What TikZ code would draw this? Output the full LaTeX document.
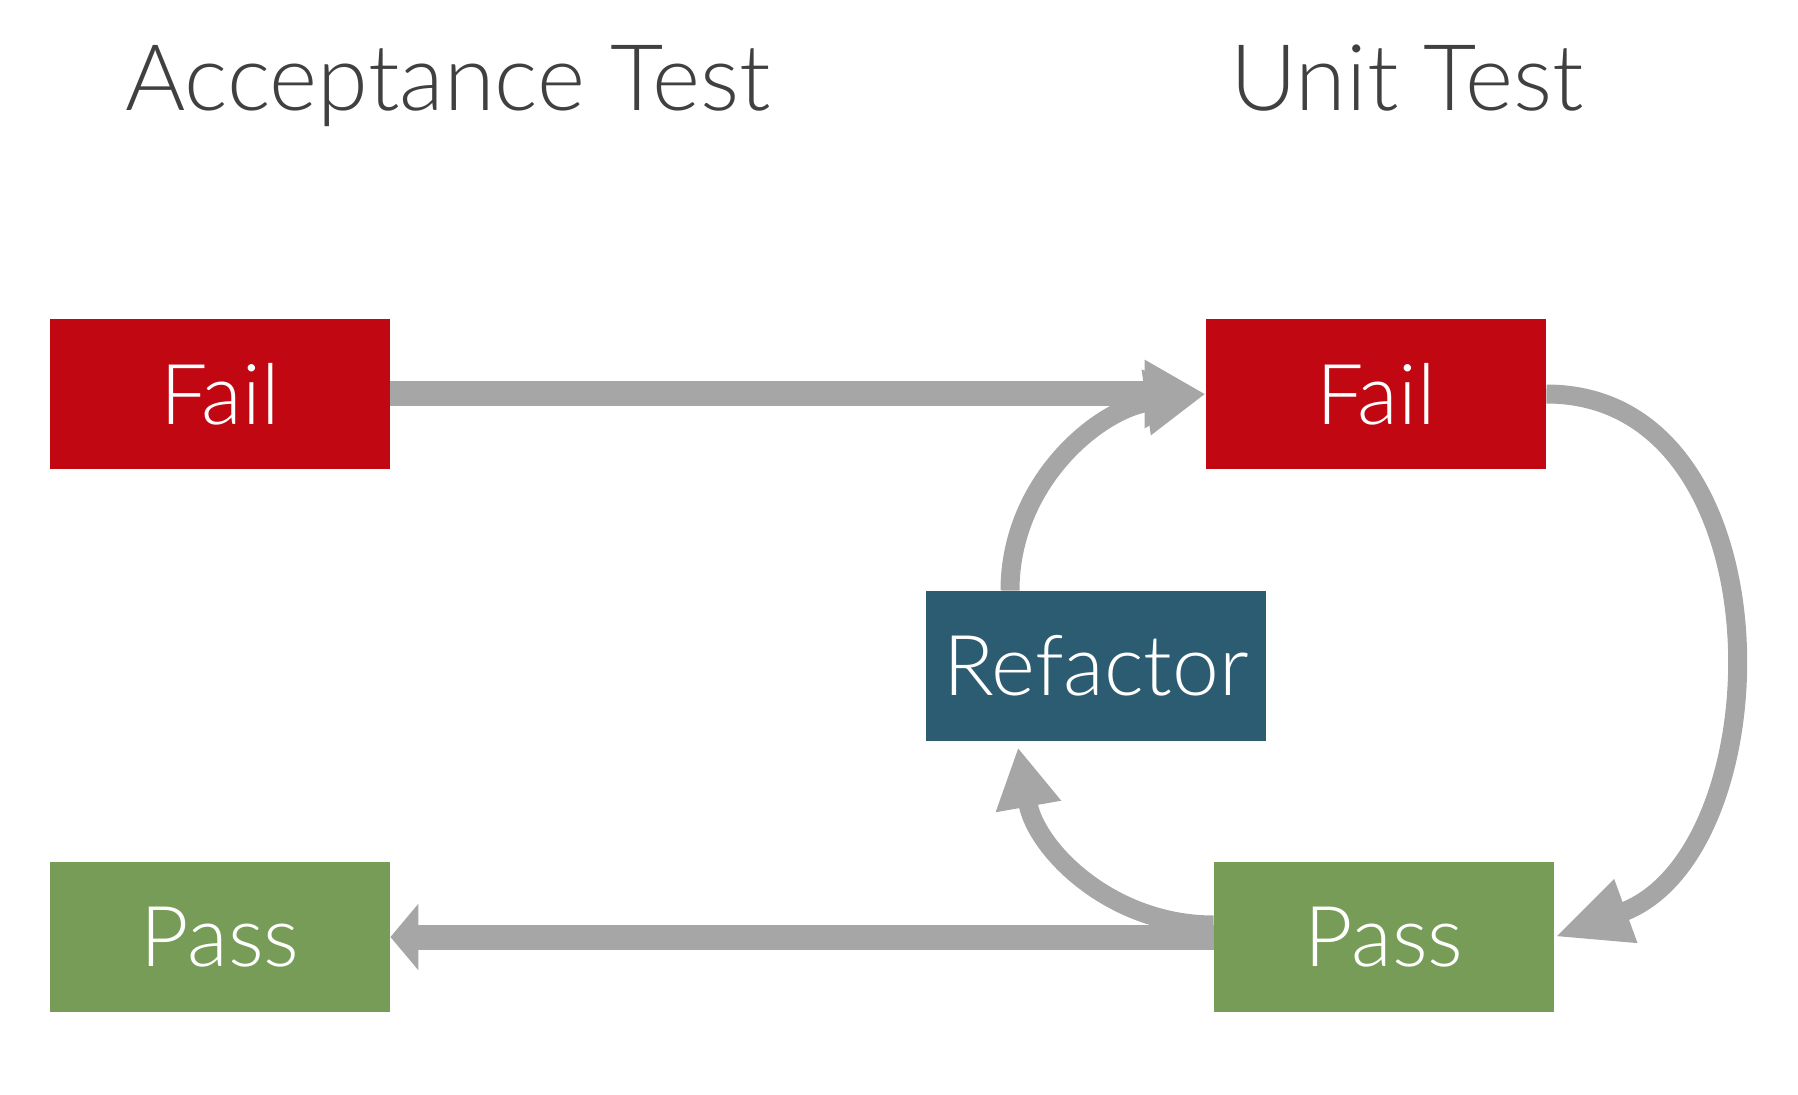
\documentclass[tikz,border=0pt]{standalone}
\usepackage{fontspec}
\setmainfont{Lato}[UprightFont=* Light]
\definecolor{failred}{RGB}{192,7,18}
\definecolor{passgreen}{RGB}{119,156,87}
\definecolor{refactorblue}{RGB}{44,92,113}
\definecolor{arrowgray}{RGB}{166,166,166}
\definecolor{titlegray}{RGB}{64,64,64}
\usetikzlibrary{arrows.meta}
\tikzstyle{stateBox} = [
 rectangle,
 text=white,
 minimum width=170pt,
 minimum height=75pt,
 inner sep=0pt,
 font=\fontsize{42}{50}\selectfont
]
\tikzstyle{failBox} = [stateBox, fill=failred]
\tikzstyle{passBox} = [stateBox, fill=passgreen]
\tikzstyle{refactorBox} = [stateBox, fill=refactorblue]
\tikzstyle{heading} = [
 text=titlegray,
 inner sep=0pt,
 anchor=base,
 font=\fontsize{46}{55}\selectfont
]
\tikzstyle{flow} = [draw=arrowgray, line width=12.5pt]
\tikzstyle{cycleArc} = [draw=arrowgray, line width=9.5pt]

\begin{document}
\begin{tikzpicture}[x=0.5pt,y=0.5pt]
  \useasboundingbox (0,0) rectangle (1798,1094);

  \node [heading] (accTitle) at (448,983) {Acceptance Test};
  \node [heading] (unitTitle) at (1407,983) {Unit Test};

  \node [failBox] (accFail) at (220,700) {Fail};
  \node [passBox] (accPass) at (220,157) {Pass};
  \node [failBox] (unitFail) at (1376,700) {Fail};
  \node [passBox] (unitPass) at (1384,157) {Pass};
  \node [refactorBox] (refactor) at (1096,428) {Refactor};

  \draw [flow, -{Triangle[length=30.5pt,width=32pt]}] (accFail.east) -- (unitFail.west);
  \draw [flow, -{Triangle[length=14pt,width=32.5pt]}] (unitPass.west) -- (accPass.east);
  \draw [cycleArc, -{Triangle[length=30pt,width=31pt]}]
    ([xshift=-43pt]refactor.north) to[out=90,in=188] (unitFail.west);
  \draw [cycleArc, -{Triangle[length=38pt,width=31pt]}]
    (unitFail.east) to[out=0,in=20,looseness=1.15] (unitPass.east);
  \draw [cycleArc, -{Triangle[length=30pt,width=31pt]}]
    ([yshift=6pt]unitPass.west) to[out=180,in=-80] ([xshift=-39pt,yshift=-3pt]refactor.south);
\end{tikzpicture}
\end{document}
